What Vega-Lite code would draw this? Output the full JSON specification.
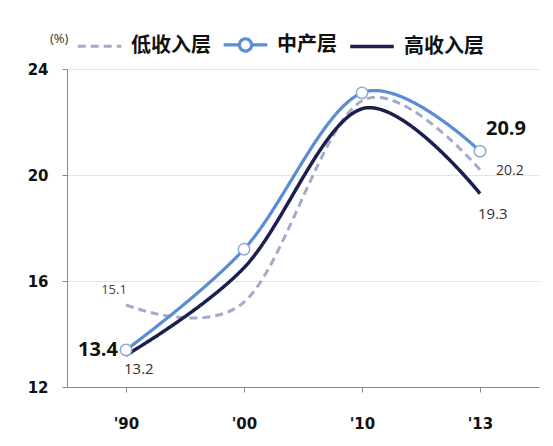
{
  "$schema": "https://vega.github.io/schema/vega-lite/v6.json",
  "width": 472,
  "height": 318,
  "autosize": "none",
  "padding": {"left": 67, "top": 69, "right": 14, "bottom": 59},
  "background": "white",
  "config": {
    "view": {"stroke": null},
    "font": "Open Sans",
    "axis": {"domainColor": "#888", "tickColor": "#888", "gridColor": "#e4e4e4", "labelColor": "#111", "labelFont": "DejaVu Sans", "labelFontWeight": "bold", "labelFontSize": 15}
  },
  "data": {
    "values": [
      {"year": "'90", "series": "低收入层", "value": 15.1},
      {"year": "'00", "series": "低收入层", "value": 15.2},
      {"year": "'10", "series": "低收入层", "value": 22.8},
      {"year": "'13", "series": "低收入层", "value": 20.2},
      {"year": "'90", "series": "中产层", "value": 13.4},
      {"year": "'00", "series": "中产层", "value": 17.2},
      {"year": "'10", "series": "中产层", "value": 23.1},
      {"year": "'13", "series": "中产层", "value": 20.9},
      {"year": "'90", "series": "高收入层", "value": 13.2},
      {"year": "'00", "series": "高收入层", "value": 16.5},
      {"year": "'10", "series": "高收入层", "value": 22.5},
      {"year": "'13", "series": "高收入层", "value": 19.3}
    ]
  },
  "encoding": {
    "x": {"field": "year", "type": "ordinal", "sort": ["'90", "'00", "'10", "'13"],
      "scale": {"paddingInner": 0, "paddingOuter": 0},
      "axis": {"title": null, "labelAngle": 0, "bandPosition": 0, "labelPadding": 24, "tickSize": 5, "grid": false}},
    "y": {"field": "value", "type": "quantitative",
      "scale": {"domain": [12, 24], "nice": false, "zero": false},
      "axis": {"title": null, "values": [12, 16, 20, 24], "labelPadding": 14, "tickSize": 5, "grid": true}}
  },
  "layer": [
    {
      "mark": {"type": "line", "interpolate": "cardinal"},
      "encoding": {
        "color": {"field": "series", "type": "nominal",
          "scale": {"domain": ["低收入层", "中产层", "高收入层"], "range": ["#a3abc9", "#5a8ed2", "#1c1f4e"]},
          "legend": {"title": "(%)", "titleOrient": "left", "titleFontSize": 13, "titleFontWeight": "normal", "titleColor": "#333", "titlePadding": 7,
            "orient": "none", "legendX": -17, "legendY": -48, "direction": "horizontal",
            "symbolType": "stroke", "symbolSize": 1900, "symbolStrokeWidth": 3,
            "labelFont": "Noto Sans CJK SC", "labelFontSize": 20, "labelFontWeight": "bold", "labelColor": "#111", "columnPadding": 6, "labelOffset": 8,
            "encode": {"symbols": {"update": {
              "shape": {"signal": "datum.value === '中产层' ? 'M-1,0L-0.28,0M0.28,0L1,0M-0.28,0A0.28,0.28 0 1,1 0.28,0A0.28,0.28 0 1,1 -0.28,0Z' : 'stroke'"},
              "fill": {"value": "white"}
            }}}}},
        "strokeDash": {"field": "series", "type": "nominal",
          "scale": {"domain": ["低收入层", "中产层", "高收入层"], "range": [[8, 5], [1, 0], [1, 0]]}, "legend": null},
        "strokeWidth": {"field": "series", "type": "nominal",
          "scale": {"domain": ["低收入层", "中产层", "高收入层"], "range": [3, 3.5, 2.5]}, "legend": null}
      }
    },
    {
      "transform": [{"filter": "datum.series === '中产层'"}],
      "mark": {"type": "point", "filled": true, "fill": "white", "stroke": "#8fa9d6", "strokeWidth": 1.5, "size": 130, "opacity": 1},
      "encoding": {}
    },
    {
      "transform": [{"filter": "datum.series === '中产层' && datum.year === \"'90\""}],
      "mark": {"type": "text", "align": "right", "baseline": "middle", "dx": -8, "dy": 0, "fontSize": 20, "fontWeight": "bold", "color": "#111", "font": "Open Sans"},
      "encoding": {"text": {"field": "value", "type": "quantitative", "format": ".1f"}}
    },
    {
      "transform": [{"filter": "datum.series === '中产层' && datum.year === \"'13\""}],
      "mark": {"type": "text", "align": "center", "baseline": "middle", "dx": 26, "dy": -22, "fontSize": 20, "fontWeight": "bold", "color": "#111", "font": "Open Sans"},
      "encoding": {"text": {"field": "value", "type": "quantitative", "format": ".1f"}}
    },
    {
      "transform": [{"filter": "datum.series === '高收入层' && datum.year === \"'90\""}],
      "mark": {"type": "text", "align": "left", "baseline": "middle", "dx": -2, "dy": 14, "fontSize": 15, "color": "#333", "font": "Open Sans"},
      "encoding": {"text": {"field": "value", "type": "quantitative", "format": ".1f"}}
    },
    {
      "transform": [{"filter": "datum.series === '高收入层' && datum.year === \"'13\""}],
      "mark": {"type": "text", "align": "left", "baseline": "middle", "dx": -2, "dy": 20, "fontSize": 15, "color": "#333", "font": "Open Sans"},
      "encoding": {"text": {"field": "value", "type": "quantitative", "format": ".1f"}}
    },
    {
      "transform": [{"filter": "datum.series === '低收入层' && datum.year === \"'90\""}],
      "mark": {"type": "text", "align": "center", "baseline": "middle", "dx": -12, "dy": -15, "fontSize": 13, "color": "#444", "font": "Open Sans"},
      "encoding": {"text": {"field": "value", "type": "quantitative", "format": ".1f"}}
    },
    {
      "transform": [{"filter": "datum.series === '低收入层' && datum.year === \"'13\""}],
      "mark": {"type": "text", "align": "left", "baseline": "middle", "dx": 16, "dy": 1, "fontSize": 14, "color": "#333", "font": "Open Sans"},
      "encoding": {"text": {"field": "value", "type": "quantitative", "format": ".1f"}}
    }
  ]
}
